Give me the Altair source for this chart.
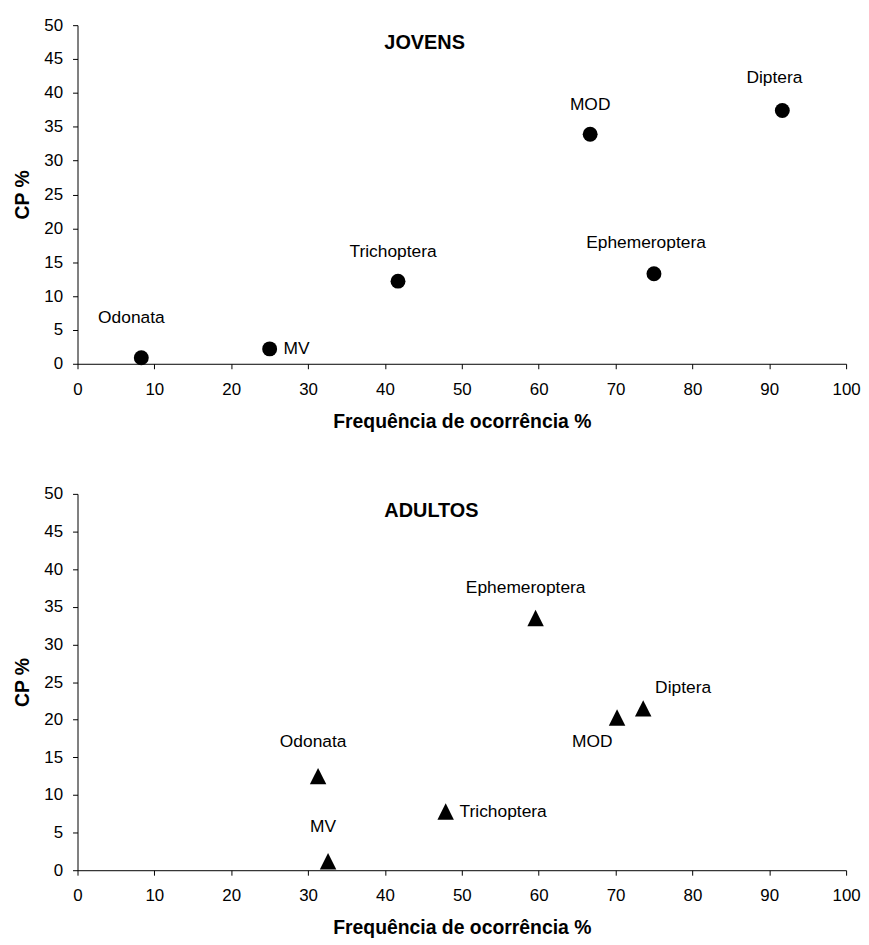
import altair as alt
import pandas as pd

# ---- data ----
taxa_jovens = ["Odonata", "MV", "Trichoptera", "Ephemeroptera", "MOD", "Diptera"]
freq_jovens = [8.3, 25.0, 41.7, 75.0, 66.7, 91.7]
cp_jovens = [0.9, 2.2, 12.2, 13.3, 33.9, 37.4]

taxa_adultos = ["Odonata", "MV", "Trichoptera", "Ephemeroptera", "MOD", "Diptera"]
freq_adultos = [31.3, 32.6, 47.9, 59.6, 70.2, 73.6]
cp_adultos = [12.5, 1.2, 7.8, 33.5, 20.3, 21.5]

x_ticks = list(range(0, 101, 10))
y_ticks = list(range(0, 51, 5))

x_title = "Frequência de ocorrência %"
y_title = "CP %"

# label placement (pixel offsets from the marker, and alignment)
lab_jovens = {
    "Odonata": (-10, -40, "center"),
    "MV": (14, 0, "left"),
    "Trichoptera": (-5, -29, "center"),
    "Ephemeroptera": (-8, -31, "center"),
    "MOD": (0, -29, "center"),
    "Diptera": (-8, -33, "center"),
}
lab_adultos = {
    "Odonata": (-5, -34, "center"),
    "MV": (-5, -34, "center"),
    "Trichoptera": (14, 1, "left"),
    "Ephemeroptera": (-10, -30, "center"),
    "MOD": (-25, 25, "center"),
    "Diptera": (12, -20, "left"),
}

FONT = "Liberation Sans"
W = 774
TRI = "M0,-1L1,1L-1,1Z"


def panel(taxa, freq, cp, shape, size, offsets, title, title_pos, height):
    df = pd.DataFrame({"taxon": taxa, "freq": freq, "cp": cp})
    x = alt.X(
        "freq:Q",
        scale=alt.Scale(domain=[0, 100], nice=False),
        axis=alt.Axis(values=x_ticks, title=x_title, labelPadding=13,
                      titlePadding=15, labelFlush=False, labelOverlap=False),
    )
    y = alt.Y(
        "cp:Q",
        scale=alt.Scale(domain=[0, 50], nice=False),
        axis=alt.Axis(values=y_ticks, title=y_title, labelPadding=10,
                      titlePadding=11, labelFlush=False, labelOverlap=False),
    )
    base = alt.Chart(df)
    pts = base.mark_point(shape=shape, size=size, filled=True,
                          color="black", opacity=1).encode(x=x, y=y)
    layers = [pts]
    for t, (dx, dy, al) in offsets.items():
        layers.append(
            base.transform_filter(alt.datum.taxon == t)
            .mark_text(dx=dx, dy=dy, align=al, baseline="middle", font=FONT,
                       fontSize=17.5, color="black")
            .encode(x=x, y=y, text="taxon:N")
        )
    tdf = pd.DataFrame({"t": [title]})
    layers.append(
        alt.Chart(tdf)
        .mark_text(align="left", baseline="middle", font=FONT, fontSize=20,
                   fontWeight="bold", color="black")
        .encode(x=alt.value(title_pos[0]), y=alt.value(title_pos[1]), text="t:N")
    )
    return alt.layer(*layers).properties(width=W, height=height)


top = panel(taxa_jovens, freq_jovens, cp_jovens, "circle", 225, lab_jovens,
            "JOVENS", (309, 18), 341)
bottom = panel(taxa_adultos, freq_adultos, cp_adultos, TRI, 275, lab_adultos,
               "ADULTOS", (309, 17), 379)

chart = (
    alt.vconcat(top, bottom, spacing=54)
    .properties(padding={"left": 5, "top": 5, "right": 0, "bottom": 0})
    .configure_view(strokeWidth=0)
    .configure_axis(
        grid=False,
        domainColor="black",
        domainWidth=1,
        tickColor="black",
        tickSize=5,
        labelColor="black",
        labelFont=FONT,
        labelFontSize=17,
        titleFont=FONT,
        titleFontSize=19.5,
        titleFontWeight="bold",
        titleColor="black",
    )
)

chart.save("out.html", embed_options={"renderer": "svg", "actions": False})
